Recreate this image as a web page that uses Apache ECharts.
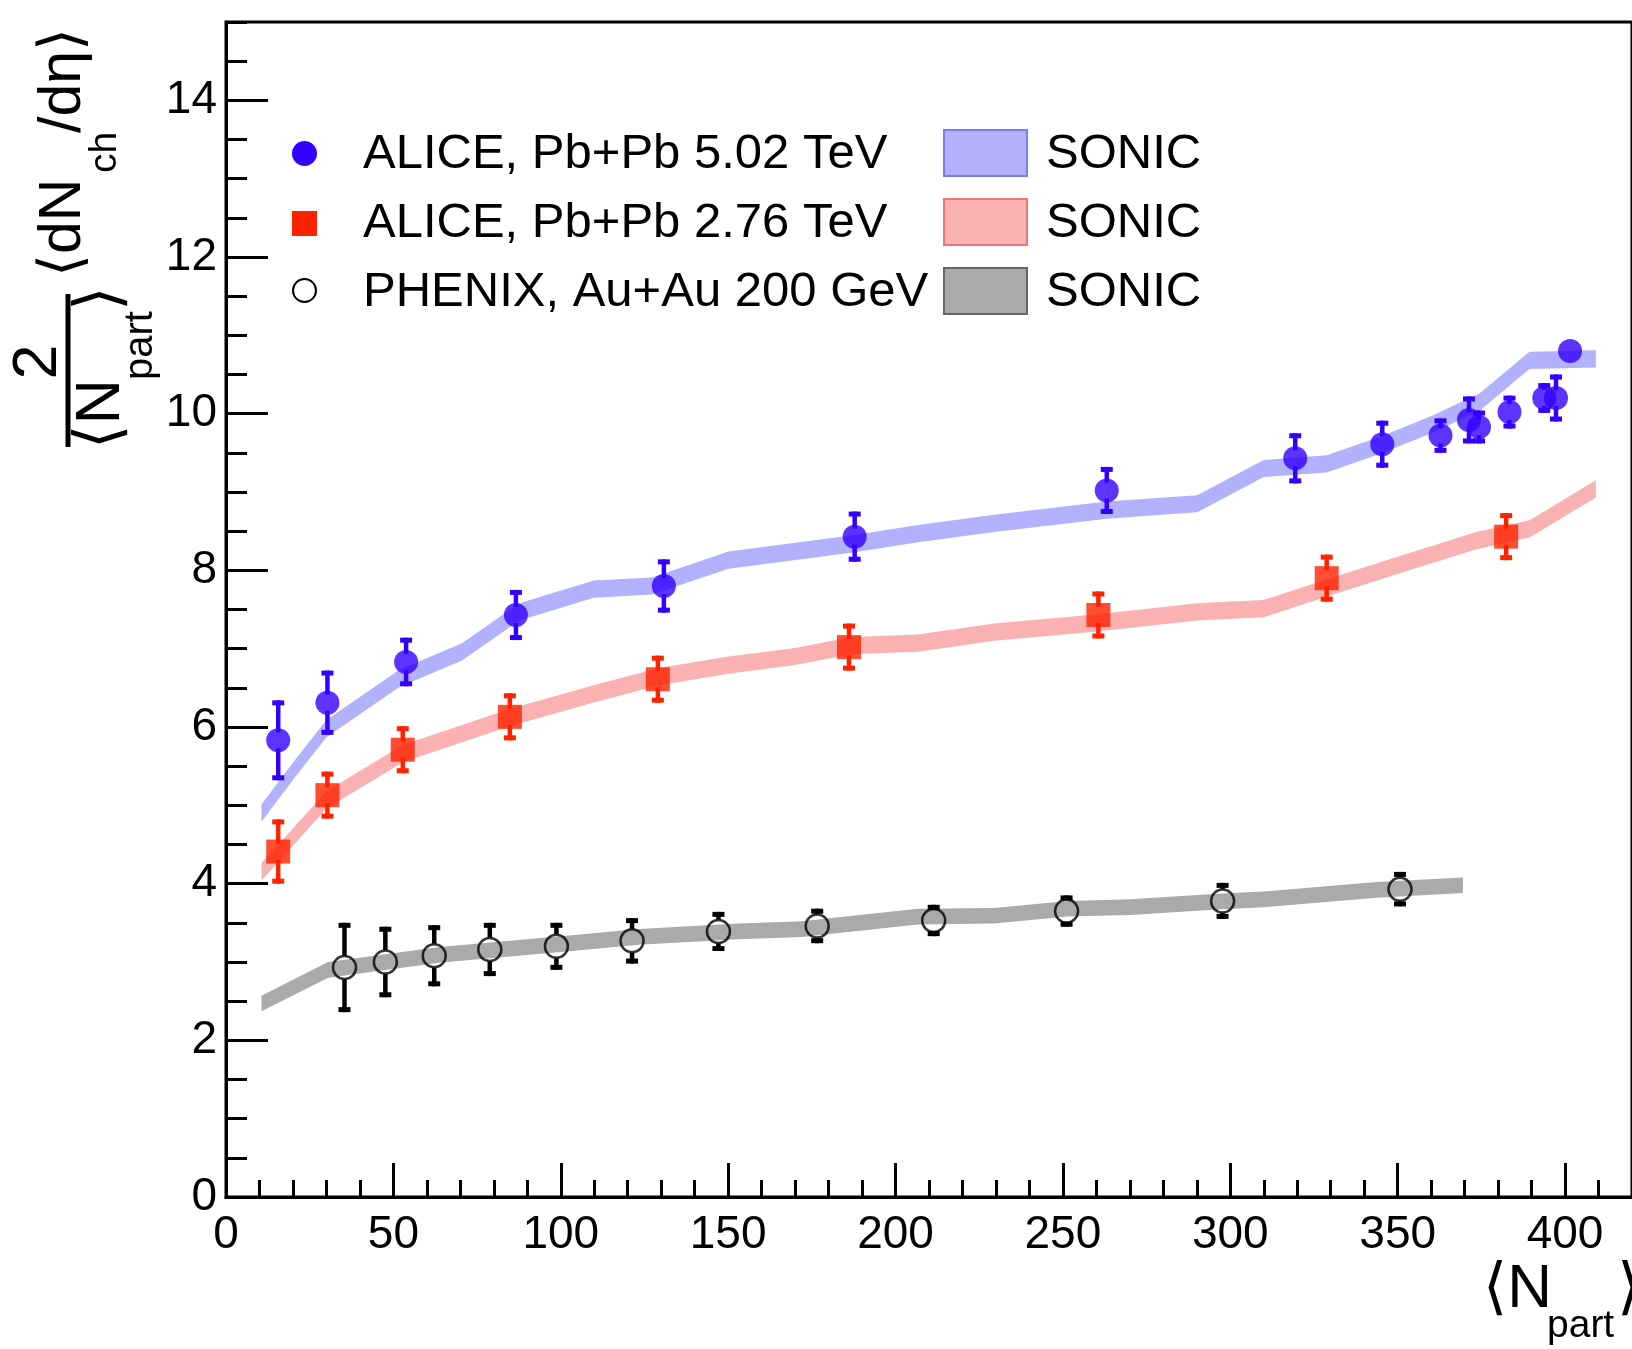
<!DOCTYPE html>
<html><head><meta charset="utf-8">
<script src="https://cdn.jsdelivr.net/npm/echarts@6/dist/echarts.min.js"></script>
<style>html,body{margin:0;padding:0;background:#fff}#c{width:1632px;height:1349px}</style>
</head><body><div id="c"></div>
<script>
// ---------- data ----------
const alice502X = [15.6, 30.3, 53.8, 86.6, 130.8, 187.8, 263.1, 319.4, 345.4, 362.8, 371.3, 374.3, 383.4, 393.8, 397.3, 401.5];
const alice502Y = [5.83, 6.31, 6.83, 7.43, 7.80, 8.43, 9.02, 9.43, 9.61, 9.72, 9.92, 9.83, 10.02, 10.20, 10.20, 10.80];
const alice502E = [0.51, 0.41, 0.31, 0.32, 0.34, 0.32, 0.30, 0.32, 0.30, 0.22, 0.30, 0.21, 0.21, 0.19, 0.30, 0.10];

const alice276X = [15.6, 30.3, 52.8, 84.8, 129.0, 186.1, 260.6, 328.8, 382.4];
const alice276Y = [4.41, 5.13, 5.71, 6.13, 6.61, 7.02, 7.43, 7.90, 8.43];
const alice276E = [0.41, 0.30, 0.30, 0.30, 0.30, 0.30, 0.30, 0.30, 0.30];

const phenixX = [35.4, 47.6, 62.2, 78.8, 98.7, 121.3, 147.1, 176.6, 211.4, 251.1, 297.7, 350.7];
const phenixY = [2.93, 3.00, 3.08, 3.16, 3.20, 3.27, 3.39, 3.46, 3.53, 3.65, 3.78, 3.93];
const phenixE = [0.57, 0.45, 0.39, 0.34, 0.30, 0.29, 0.25, 0.22, 0.20, 0.20, 0.23, 0.22];

const sonic502X = [10.6, 21, 30, 51.8, 70.5, 87.6, 109.9, 127.3, 150.1, 187.8, 206.7, 229.5, 263.1, 290.1, 310, 328.8, 345, 360.6, 374.5, 389.4, 409.2];
const sonic502Y = [4.90, 5.49, 5.98, 6.62, 6.96, 7.47, 7.76, 7.80, 8.13, 8.34, 8.47, 8.60, 8.77, 8.85, 9.30, 9.36, 9.60, 9.87, 10.15, 10.68, 10.70];

const sonic276X = [10.6, 30, 52.8, 84.7, 110.4, 129.0, 150.1, 170, 186.8, 206.7, 229.5, 260.3, 290.1, 310, 329.8, 349.7, 373.5, 389.4, 409.2];
const sonic276Y = [4.15, 5.07, 5.66, 6.12, 6.43, 6.64, 6.79, 6.90, 7.04, 7.07, 7.21, 7.33, 7.47, 7.51, 7.79, 8.06, 8.38, 8.53, 9.04];

const sonic200X = [10.6, 30.5, 63.7, 103.4, 123.3, 153.1, 172, 206.7, 229.5, 251.4, 270.2, 296, 310, 343.7, 369.5];
const sonic200Y = [2.47, 2.90, 3.09, 3.24, 3.32, 3.39, 3.42, 3.58, 3.59, 3.68, 3.70, 3.77, 3.80, 3.92, 3.98];

const xTicksMajor = 50, xTicksMinor = 10, yTicksMajor = 2, yTicksMinor = 0.5;
const legendData = ['ALICE, Pb+Pb 5.02 TeV', 'ALICE, Pb+Pb 2.76 TeV', 'PHENIX, Au+Au 200 GeV'];
const bandLabel = 'SONIC';

// ---------- styling ----------
const FONT = '"Liberation Sans", Arial, Helvetica, "DejaVu Sans", sans-serif';
const BLUE = '#3300ff', RED = '#ff2200';
const BLUEBAND = '#b1b1fc', REDBAND = '#f9b1b1', GREYBAND = '#aaaaaa';

function zip3(a, b, c) { return a.map((x, i) => [x, b[i], c ? c[i] : 0]); }

function bandRender(xs, ys, hw, color) {
  return function (params, api) {
    if (params.dataIndex !== 0) return null;
    const pts = [];
    for (let i = 0; i < xs.length; i++) pts.push(api.coord([xs[i], ys[i] + hw]));
    for (let i = xs.length - 1; i >= 0; i--) pts.push(api.coord([xs[i], ys[i] - hw]));
    return { type: 'polygon', shape: { points: pts }, style: { fill: color } };
  };
}

function errRender(xs, ys, es, color, r) {
  return function (params, api) {
    const i = params.dataIndex;
    const c = api.coord([xs[i], ys[i]]);
    const top = api.coord([xs[i], ys[i] + es[i]])[1];
    const bot = api.coord([xs[i], ys[i] - es[i]])[1];
    const sw = 4.5, cw = 12, chh = 5;
    const ch = [];
    if (c[1] - top > r) {
      ch.push({ type: 'rect', shape: { x: c[0] - sw / 2, y: top, width: sw, height: c[1] - r - top }, style: { fill: color } });
      ch.push({ type: 'rect', shape: { x: c[0] - cw / 2, y: top, width: cw, height: chh }, style: { fill: color } });
    }
    if (bot - c[1] > r) {
      ch.push({ type: 'rect', shape: { x: c[0] - sw / 2, y: c[1] + r, width: sw, height: bot - c[1] - r }, style: { fill: color } });
      ch.push({ type: 'rect', shape: { x: c[0] - cw / 2, y: bot - chh, width: cw, height: chh }, style: { fill: color } });
    }
    return { type: 'group', children: ch };
  };
}

const axisText = { color: '#000', fontSize: 46, fontFamily: FONT };

const option = {
  animation: false,
  backgroundColor: '#fff',
  grid: { left: 226, right: -4, top: 22, bottom: 152, show: true, borderColor: '#000', borderWidth: 3, backgroundColor: 'transparent' },
  xAxis: [
    { type: 'value', min: 0, max: 420, interval: xTicksMajor, position: 'bottom',
      axisLine: { show: true, lineStyle: { color: '#000', width: 3 } },
      axisTick: { show: true, inside: true, length: 34, lineStyle: { color: '#000', width: 3 } },
      axisLabel: Object.assign({ margin: 15, showMaxLabel: false }, axisText),
      splitLine: { show: false } },
    { type: 'value', min: 0, max: 420, interval: xTicksMinor, position: 'bottom',
      axisLine: { show: false },
      axisTick: { show: true, inside: true, length: 17, lineStyle: { color: '#000', width: 3 } },
      axisLabel: { show: false }, splitLine: { show: false } }
  ],
  yAxis: [
    { type: 'value', min: 0, max: 15, interval: yTicksMajor, position: 'left',
      axisLine: { show: true, lineStyle: { color: '#000', width: 3 } },
      axisTick: { show: true, inside: true, length: 42, lineStyle: { color: '#000', width: 3 } },
      axisLabel: Object.assign({ margin: 9, showMaxLabel: false }, axisText),
      splitLine: { show: false } },
    { type: 'value', min: 0, max: 15, interval: yTicksMinor, position: 'left',
      axisLine: { show: false },
      axisTick: { show: true, inside: true, length: 21, lineStyle: { color: '#000', width: 3 } },
      axisLabel: { show: false }, splitLine: { show: false } }
  ],
  series: [
    { type: 'custom', name: 'SONIC 200', z: 1, data: zip3(sonic200X, sonic200Y), encode: { x: 0, y: 1 },
      renderItem: bandRender(sonic200X, sonic200Y, 0.1, GREYBAND) },
    { type: 'custom', name: 'SONIC 2.76', z: 1, data: zip3(sonic276X, sonic276Y), encode: { x: 0, y: 1 },
      renderItem: bandRender(sonic276X, sonic276Y, 0.11, REDBAND) },
    { type: 'custom', name: 'SONIC 5.02', z: 1, data: zip3(sonic502X, sonic502Y), encode: { x: 0, y: 1 },
      renderItem: bandRender(sonic502X, sonic502Y, 0.11, BLUEBAND) },
    { type: 'custom', z: 3, data: zip3(phenixX, phenixY, phenixE), encode: { x: 0, y: 1 },
      renderItem: errRender(phenixX, phenixY, phenixE, '#000', 12) },
    { type: 'custom', z: 3, data: zip3(alice276X, alice276Y, alice276E), encode: { x: 0, y: 1 },
      renderItem: errRender(alice276X, alice276Y, alice276E, RED, 8) },
    { type: 'custom', z: 3, data: zip3(alice502X, alice502Y, alice502E), encode: { x: 0, y: 1 },
      renderItem: errRender(alice502X, alice502Y, alice502E, BLUE, 8) },
    { type: 'scatter', name: legendData[2], z: 4, symbol: 'circle', symbolSize: 23,
      itemStyle: { color: 'rgba(0,0,0,0)', borderColor: '#000', borderWidth: 2.5 },
      data: phenixX.map((x, i) => [x, phenixY[i]]) },
    { type: 'scatter', name: legendData[1], z: 4, symbol: 'rect', symbolSize: 24,
      itemStyle: { color: RED },
      data: alice276X.map((x, i) => [x, alice276Y[i]]) },
    { type: 'scatter', name: legendData[0], z: 4, symbol: 'circle', symbolSize: 24,
      itemStyle: { color: BLUE },
      data: alice502X.map((x, i) => [x, alice502Y[i]]) }
  ],
  graphic: []
};

// ---------- legend (graphic) ----------
const rowsY = [154.5, 223.5, 292.5];
const g = option.graphic;
g.push({ type: 'circle', shape: { cx: 304.5, cy: 153.5, r: 12.5 }, style: { fill: BLUE }, z: 10 });
g.push({ type: 'rect', shape: { x: 292, y: 211, width: 25, height: 25 }, style: { fill: RED }, z: 10 });
g.push({ type: 'circle', shape: { cx: 304.5, cy: 290.5, r: 11.5 }, style: { fill: '#fff', stroke: '#000', lineWidth: 2 }, z: 10 });
legendData.forEach((t, i) => {
  g.push({ type: 'text', x: 363, y: rowsY[i], z: 10,
    style: { text: t, font: '49px ' + FONT, fill: '#000', textAlign: 'left', textVerticalAlign: 'middle' } });
  g.push({ type: 'text', x: 1046, y: rowsY[i], z: 10,
    style: { text: bandLabel, font: '49px ' + FONT, fill: '#000', textAlign: 'left', textVerticalAlign: 'middle' } });
});
const boxY = [130, 199, 268];
const boxFill = [BLUEBAND, REDBAND, GREYBAND];
const boxStroke = ['#7a7aff', '#f07575', '#666666'];
boxY.forEach((y, i) => g.push({ type: 'rect', shape: { x: 944, y: y, width: 83, height: 46 }, z: 10,
  style: { fill: boxFill[i], stroke: boxStroke[i], lineWidth: 2 } }));

// ---------- x axis title ----------
g.push({ type: 'text', x: 1483, y: 1290, style: { text: '⟨N', font: '62px ' + FONT, fill: '#000', textAlign: 'left', textVerticalAlign: 'middle' } });
g.push({ type: 'text', x: 1547, y: 1326, style: { text: 'part', font: '39px ' + FONT, fill: '#000', textAlign: 'left', textVerticalAlign: 'middle' } });
g.push({ type: 'text', x: 1617, y: 1290, style: { text: '⟩', font: '62px ' + FONT, fill: '#000', textAlign: 'left', textVerticalAlign: 'middle' } });

// ---------- y axis title (rotated) ----------
const R = Math.PI / 2;
g.push({ type: 'text', x: 39, y: 362, rotation: R, style: { text: '2', font: '63px ' + FONT, fill: '#000', textAlign: 'center', textVerticalAlign: 'middle' } });
g.push({ type: 'rect', shape: { x: 65.5, y: 294, width: 5, height: 153 }, style: { fill: '#000' } });
g.push({ type: 'text', x: 102, y: 449, rotation: R, style: { text: '⟨N', font: '63px ' + FONT, fill: '#000', textAlign: 'left', textVerticalAlign: 'middle' } });
g.push({ type: 'text', x: 141, y: 380, rotation: R, style: { text: 'part', font: '40px ' + FONT, fill: '#000', textAlign: 'left', textVerticalAlign: 'middle' } });
g.push({ type: 'text', x: 102, y: 311, rotation: R, style: { text: '⟩', font: '63px ' + FONT, fill: '#000', textAlign: 'left', textVerticalAlign: 'middle' } });
g.push({ type: 'text', x: 64, y: 277, rotation: R, style: { text: '⟨dN', font: '59px ' + FONT, fill: '#000', textAlign: 'left', textVerticalAlign: 'middle' } });
g.push({ type: 'text', x: 105, y: 173, rotation: R, style: { text: 'ch', font: '39px ' + FONT, fill: '#000', textAlign: 'left', textVerticalAlign: 'middle' } });
g.push({ type: 'text', x: 64, y: 133, rotation: R, style: { text: '/dη⟩', font: '59px ' + FONT, fill: '#000', textAlign: 'left', textVerticalAlign: 'middle' } });

const chart = echarts.init(document.getElementById('c'), null, { renderer: 'canvas' });
chart.setOption(option);
</script>
</body></html>
